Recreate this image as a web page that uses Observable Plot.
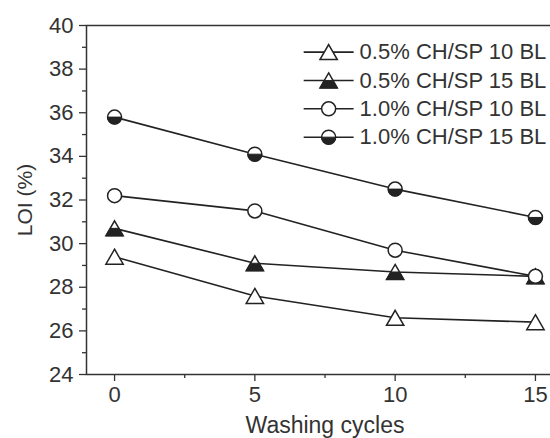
<!DOCTYPE html>
<html>
<head>
<meta charset="utf-8">
<script src="https://cdn.jsdelivr.net/npm/d3@7"></script>
<script src="https://cdn.jsdelivr.net/npm/@observablehq/plot@0.6"></script>
<style>
  html, body { margin: 0; padding: 0; background: #fff; overflow: hidden; }
</style>
</head>
<body>
<div id="chart"></div>
<script>
// Limiting oxygen index after repeated washing cycles
const cycles = [0, 5, 10, 15];
const seriesNames = ["0.5% CH/SP 10 BL", "0.5% CH/SP 15 BL", "1.0% CH/SP 10 BL", "1.0% CH/SP 15 BL"];
const loi05_10 = [29.4, 27.6, 26.6, 26.4];
const loi05_15 = [30.7, 29.1, 28.7, 28.5];
const loi10_10 = [32.2, 31.5, 29.7, 28.5];
const loi10_15 = [35.8, 34.1, 32.5, 31.2];
const yTicks = [24, 26, 28, 30, 32, 34, 36, 38, 40];
const yMinorTicks = [25, 27, 29, 31, 33, 35, 37, 39];
const xTicks = [0, 5, 10, 15];
const xMinorTicks = [2.5, 7.5, 12.5];

const ink = "#222";

// Marker shapes (r = sqrt(size / PI) is the dot radius)
const triangle = {
  draw(ctx, size) {
    const r = Math.sqrt(size / Math.PI), w = r * 1.155;
    ctx.moveTo(0, -r); ctx.lineTo(w, r); ctx.lineTo(-w, r); ctx.closePath();
  }
};
const triangleLower = {
  draw(ctx, size) {
    const r = Math.sqrt(size / Math.PI), w = r * 1.155;
    ctx.moveTo(-w / 2, 0); ctx.lineTo(w / 2, 0); ctx.lineTo(w, r); ctx.lineTo(-w, r); ctx.closePath();
  }
};
const circleLower = {
  draw(ctx, size) {
    const r = Math.sqrt(size / Math.PI);
    ctx.moveTo(r, 0); ctx.arc(0, 0, r, 0, Math.PI); ctx.closePath();
  }
};

const valuesBySeries = [loi05_10, loi05_15, loi10_10, loi10_15];
const outline = ["triangle", "triangle", "circle", "circle"];
const filledHalf = [false, true, false, true];
const markerR = { triangle: 7.5, circle: 7 };

const rows = [];
valuesBySeries.forEach((vals, s) => vals.forEach((v, i) => rows.push({ series: seriesNames[s], s, cycle: cycles[i], loi: v })));

// Legend layout in data units (upper right of the frame)
const legX0 = 6.74, legX1 = 8.52, legTop = 38.78, legStep = 1.3;
const legend = seriesNames.map((name, s) => ({ name, s, y: legTop - s * legStep }));

function markerMarks(data, s, xOpt, yOpt) {
  const shape = outline[s];
  const r = markerR[shape];
  const out = [
    Plot.dot(data, { x: xOpt, y: yOpt, r, symbol: shape === "triangle" ? triangle : "circle", fill: "#fff", stroke: ink, strokeWidth: 1.5 })
  ];
  if (filledHalf[s]) {
    out.push(Plot.dot(data, { x: xOpt, y: yOpt, r, symbol: shape === "triangle" ? triangleLower : circleLower, fill: ink, stroke: ink, strokeWidth: 1 }));
  }
  return out;
}

const marks = [
  Plot.frame({ stroke: "#333", strokeWidth: 1.5 }),
  Plot.axisY({ ticks: yMinorTicks, tickSize: 4, tickFormat: () => "", label: null, strokeWidth: 1.3 }),
  Plot.axisY({ ticks: yTicks, tickSize: 7, tickPadding: 6, label: null, strokeWidth: 1.3 }),
  Plot.axisX({ ticks: xMinorTicks, tickSize: 4, tickFormat: () => "", label: null, strokeWidth: 1.3 }),
  Plot.axisX({ ticks: xTicks, tickSize: 7, tickPadding: 5, label: null, strokeWidth: 1.3 }),
  Plot.text(["LOI (%)"], { frameAnchor: "left", dx: -61, rotate: -90, textAnchor: "middle", lineAnchor: "middle", fontSize: 21, fill: "#333" }),
  Plot.text(["Washing cycles"], { frameAnchor: "bottom", dy: 51, textAnchor: "middle", lineAnchor: "middle", fontSize: 23, fill: "#333" }),
  Plot.line(rows, { x: "cycle", y: "loi", z: "series", stroke: ink, strokeWidth: 1.6 }),
];
seriesNames.forEach((name, s) => {
  marks.push(...markerMarks(rows.filter(d => d.s === s), s, "cycle", "loi"));
});

// Legend
marks.push(Plot.link(legend, { x1: () => legX0, x2: () => legX1, y1: "y", y2: "y", stroke: ink, strokeWidth: 1.6 }));
seriesNames.forEach((name, s) => {
  marks.push(...markerMarks(legend.filter(d => d.s === s), s, () => (legX0 + legX1) / 2, "y"));
});
marks.push(Plot.text(legend, { x: () => legX1, y: "y", text: "name", textAnchor: "start", dx: 6, fill: "#333" }));

const chart = Plot.plot({
  width: 550,
  height: 438,
  marginLeft: 86,
  marginRight: -13,
  marginTop: 25,
  marginBottom: 64,
  x: { domain: [-1, 16] },
  y: { domain: [24, 40] },
  style: { fontFamily: "'Liberation Sans', Arial, sans-serif", fontSize: "22px", color: "#333", background: "#fff", overflow: "hidden" },
  marks
});
document.getElementById("chart").appendChild(chart);
</script>
</body>
</html>
